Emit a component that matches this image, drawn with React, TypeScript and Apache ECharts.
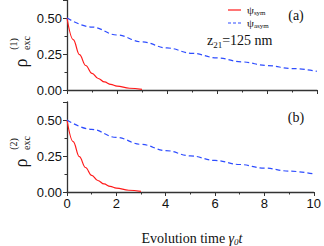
import React, { useEffect, useRef } from "react";
import * as echarts from "echarts";

const tSym = [0, 0.25, 0.5, 0.75, 1, 1.25, 1.5, 1.75, 2, 2.5, 3];
const symA = [0.5, 0.35, 0.245, 0.17, 0.116, 0.08, 0.056, 0.039, 0.027, 0.012, 0.004];
const symB = [0.5, 0.35, 0.245, 0.17, 0.116, 0.08, 0.056, 0.039, 0.027, 0.012, 0.004];
const tAsym = [0, 1, 2, 3, 4, 5, 6, 7, 8, 9, 10];
const asymA = [0.5, 0.437, 0.382, 0.334, 0.292, 0.255, 0.223, 0.195, 0.17, 0.149, 0.13];
const asymB = [0.5, 0.435, 0.379, 0.331, 0.288, 0.251, 0.219, 0.191, 0.166, 0.145, 0.126];
const yTicks = [0, 0.25, 0.5];
const xTicks = [0, 2, 4, 6, 8, 10];

const SERIF = "Liberation Serif";
const SANS = "Liberation Sans";
const AX = "#333";
const RED = "#ff1a1a";
const BLUE = "#2e4dff";

const pair = (xs: number[], ys: number[]) => xs.map((x, i) => [x, ys[i]]);

export default function App() {
  const ref = useRef<HTMLDivElement>(null);
  useEffect(() => {
    const chart = echarts.init(ref.current!, null, { renderer: "svg" });
    const xAxisBase = (gridIndex: number, showLabel: boolean) => ({
      type: "value",
      gridIndex,
      min: 0,
      max: 10,
      interval: 2,
      axisLine: { show: true, onZero: false, lineStyle: { color: AX, width: 1.3 } },
      axisTick: { show: true, inside: false, length: 4, lineStyle: { color: AX, width: 1 } },
      minorTick: { show: true, splitNumber: 2, length: 2.5, lineStyle: { color: AX, width: 1 } },
      splitLine: { show: false },
      axisLabel: {
        show: showLabel,
        margin: 5,
        fontFamily: SANS,
        fontSize: 13,
        color: "#111",
        formatter: (v: number) => (xTicks.includes(v) ? String(v) : ""),
      },
    });
    const yAxisBase = (gridIndex: number) => ({
      type: "value",
      gridIndex,
      min: 0,
      max: 0.625,
      interval: 0.25,
      axisLine: { show: true, lineStyle: { color: AX, width: 1.3 } },
      axisTick: { show: true, inside: false, length: 4, lineStyle: { color: AX, width: 1 } },
      minorTick: { show: true, splitNumber: 2, length: 2.5, lineStyle: { color: AX, width: 1 } },
      splitLine: { show: false },
      axisLabel: {
        margin: 5,
        fontFamily: SANS,
        fontSize: 13,
        color: "#111",
        formatter: (v: number) => (yTicks.some((t) => Math.abs(t - v) < 1e-9) ? v.toFixed(2) : ""),
      },
    });
    const line = (name: string, data: number[][], idx: number, color: string, dashed: boolean) => ({
      name,
      type: "line",
      xAxisIndex: idx,
      yAxisIndex: idx,
      data,
      smooth: 0.4,
      smoothMonotone: "x",
      showSymbol: false,
      symbol: "none",
      lineStyle: { color, width: 1.2, type: dashed ? [5, 3] : "solid" },
      z: 3,
    });
    const rot = Math.PI / 2;
    const yTitle = (dy: number, sup: string) => [
      { type: "text", x: 21, y: 63 + dy, rotation: rot, style: { text: "ρ", font: `18px '${SERIF}'`, fill: "#111", align: "center", verticalAlign: "middle" } },
      { type: "text", x: 13, y: 44 + dy, rotation: rot, style: { text: sup, font: `10px '${SERIF}'`, fill: "#111", align: "center", verticalAlign: "middle" } },
      { type: "text", x: 26, y: 43 + dy, rotation: rot, style: { text: "exc", font: `10px '${SERIF}'`, fill: "#111", align: "center", verticalAlign: "middle" } },
    ];
    chart.setOption({
      animation: false,
      grid: [
        { left: 67, top: 0, width: 250, height: 90 },
        { left: 67, top: 102, width: 250, height: 90 },
      ],
      xAxis: [xAxisBase(0, false), xAxisBase(1, true)],
      yAxis: [yAxisBase(0), yAxisBase(1)],
      series: [
        line("ψsym", pair(tSym, symA), 0, RED, false),
        line("ψasym", pair(tAsym, asymA), 0, BLUE, true),
        line("ψsym b", pair(tSym, symB), 1, RED, false),
        line("ψasym b", pair(tAsym, asymB), 1, BLUE, true),
      ],
      graphic: [
        ...yTitle(0, "(1)"),
        ...yTitle(100, "(2)"),
        { type: "line", shape: { x1: 228, y1: 10, x2: 241, y2: 10 }, style: { stroke: RED, lineWidth: 1.2 } },
        { type: "line", shape: { x1: 228, y1: 23, x2: 242, y2: 23 }, style: { stroke: BLUE, lineWidth: 1.2, lineDash: [3, 2] } },
        {
          type: "text", x: 247, y: 10,
          style: {
            text: "{p|ψ}{s|sym}", verticalAlign: "middle", fill: "#111",
            rich: { p: { fontFamily: SERIF, fontSize: 11, fill: "#111" }, s: { fontFamily: SERIF, fontSize: 7, fill: "#111", padding: [5, 0, 0, 0] } },
          },
        },
        {
          type: "text", x: 247, y: 23,
          style: {
            text: "{p|ψ}{s|asym}", verticalAlign: "middle", fill: "#111",
            rich: { p: { fontFamily: SERIF, fontSize: 11, fill: "#111" }, s: { fontFamily: SERIF, fontSize: 7, fill: "#111", padding: [5, 0, 0, 0] } },
          },
        },
        { type: "text", x: 296, y: 15, style: { text: "(a)", font: `14px '${SERIF}'`, fill: "#111", align: "center", verticalAlign: "middle" } },
        { type: "text", x: 296, y: 117, style: { text: "(b)", font: `14px '${SERIF}'`, fill: "#111", align: "center", verticalAlign: "middle" } },
        {
          type: "text", x: 207, y: 40,
          style: {
            text: "{a|z}{b|21}{a|=125 nm}", verticalAlign: "middle", fill: "#111",
            rich: { a: { fontFamily: SERIF, fontSize: 14, fill: "#111" }, b: { fontFamily: SERIF, fontSize: 9, fill: "#111", padding: [9, 0, 0, 0] } },
          },
        },
        {
          type: "text", x: 192, y: 238,
          style: {
            text: "{n|Evolution time }{g|γ}{s|0}{t|t}", align: "center", verticalAlign: "middle", fill: "#111",
            rich: {
              n: { fontFamily: SERIF, fontSize: 14, fill: "#111" },
              g: { fontFamily: SERIF, fontSize: 14, fontStyle: "italic", fill: "#111" },
              s: { fontFamily: SERIF, fontSize: 9, fontStyle: "italic", fill: "#111", padding: [8, 0, 0, 0] },
              t: { fontFamily: SERIF, fontSize: 14, fontStyle: "italic", fill: "#111" },
            },
          },
        },
      ],
    });
    return () => chart.dispose();
  }, []);
  return <div ref={ref} style={{ position: "absolute", left: 0, top: 0, width: 324, height: 246 }} />;
}
